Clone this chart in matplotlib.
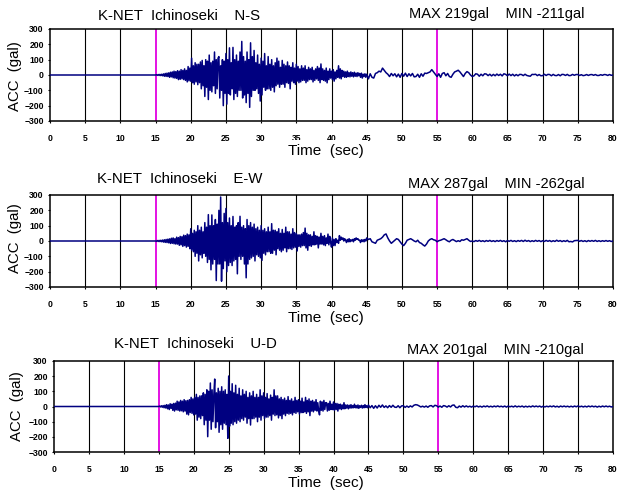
import matplotlib
matplotlib.use("Agg")
import matplotlib.pyplot as plt
import numpy as np

plt.rcParams["font.family"] = ["Liberation Sans", "DejaVu Sans"]

W_PX, H_PX = 619, 493

# sample times: quiet 0-15 s every 0.25 s, strong motion 15-45 s every 0.125 s,
# coda 45-80 s every 0.25 s
TIME = np.concatenate([
    np.arange(0, 15, 0.25),
    np.arange(15, 45, 0.125),
    np.arange(45, 80.001, 0.25),
])

PRE_EVENT = [0] * 60

NS_STRONG = [
    0, 2, -2, 3, -3, 4, -4, 5, -5, 7, -8, 10, -9, 12, -10, 14,
    -15, 18, -12, 20, -18, 25, -20, 22, -22, 28, -30, 25, -28, 35, -25, 30,
    -30, 40, -35, 30, -45, 55, -38, 45, -40, 110, -50, 60, -60, 80, -45, 70,
    -63, 70, -50, 85, -90, 95, -70, 60, -140, 100, -80, 90, -160, 130, -100, 80,
    -110, 90, -70, 150, -120, 100, -90, 110, 120, -150, 60, -100, 100, -200, 90, -120,
    140, -190, 100, -120, 177, -130, 80, -90, 180, -160, 100, -120, 130, -140, 90, -100,
    150, -100, 219, -150, 120, -130, 90, -180, 150, -120, 100, -211, 210, -140, 120, -100,
    160, -100, 80, -90, 130, -120, 70, -170, 110, -130, 90, -80, 140, -100, 60, -90,
    120, -90, 70, -100, 100, -80, 60, -110, 80, -70, 110, -60, 90, -80, 50, -60,
    95, -60, 70, -80, 60, -50, 85, -55, 60, -90, 50, -40, 80, -50, 45, -60,
    70, -40, 55, -50, 40, -45, 60, -35, 45, -35, 60, -50, 35, -40, 50, -30,
    40, -30, 50, -45, 30, -35, 40, -25, 55, -35, 45, -50, 72, -30, 40, -35,
    30, -40, 45, -51, 25, -30, 40, -20, 25, -30, 35, -40, 20, -25, 30, -15,
    60, -20, 40, -25, 30, -10, 25, -15, 20, -15, 25, -10, 15, -12, 20, -8,
    15, -12, 18, -8, 12, -10, 15, -5, 10, -15, 12, -20, 5, -10, 8, -15,
]
NS_TAIL = [
    5, -25, 8, -15, -20, 10, 15, 25,
    20, 45, 30, 15, 5, -10, 10, -5, 8, -12, 6, -15, 10, -8, 12, -10,
    8, -6, 10, -12, -10, 5, -15, 8, -8, 12, 10, 15, 20, 35, 20, 5,
    -10, 8, -15, 10, 15, -5, 10, -10, -15, 5, 20, 25, 31, 20, 5, -10,
    10, 22, 15, 0, -10, -5, 8, 5, -8, 5, -5, 8, 6, -4, 5, -6,
    4, -5, 6, -3, 5, -6, 8, 4, -5, 6, -4, 5, -6, 3, -5, 4,
    3, -4, 5, -3, -6, -8, 4, 3, 5, -4, 3, -5, -4, 5, -3, 4,
    3, -5, 4, -3, -4, 3, -5, 4, 3, -3, 4, -4, -3, 4, -2, 3,
    3, -3, 2, -4, -2, 3, -3, 2, 3, -2, 3, -3, -3, 2, -2, 3,
    2, -3, 3, -2, 0,
]

EW_STRONG = [
    0, -2, 3, -3, 4, -4, 5, -5, 6, -7, 8, -9, 10, -10, 12, -12,
    14, -16, 18, -15, 20, -18, 15, -20, 25, -20, 22, -28, 30, -25, 28, -35,
    38, -30, 35, -40, 45, -35, 40, -50, 80, -60, 50, -70, 70, -100, 60, -80,
    100, -130, 70, -90, 90, -110, 60, -80, 120, -100, 90, -140, 172, -120, 100, -188,
    170, -150, 100, -120, 140, -258, 110, -150, 200, -150, 287, -262, 120, -180, 180, -130,
    212, -200, 120, -160, 150, -140, 100, -160, 160, -130, 90, -120, 100, -214, 120, -100,
    161, -120, 90, -100, 100, -150, 80, -240, 140, -150, 100, -120, 120, -110, 90, -100,
    110, -130, 80, -90, 90, -100, 70, -110, 100, -126, 70, -80, 80, -90, 60, -70,
    90, -70, 60, -80, 113, -80, 70, -60, 70, -90, 60, -50, 80, -60, 50, -70,
    75, -60, 50, -45, 90, -70, 60, -50, 60, -50, 45, -55, 80, -45, 55, -40,
    50, -65, 40, -35, 40, -40, 45, -30, 55, -30, 84, -45, 50, -60, 40, -30,
    40, -35, 30, -25, 60, -25, 35, -20, 30, -45, 25, -20, 50, -20, 30, -25,
    35, -30, 20, -15, 45, -25, 30, -10, -40, 20, -30, 10, -30, 15, -10, 5,
    -15, 35, 5, 25, 10, 20, 0, 15, 5, -10, 10, -5, 15, -5, 8, 0,
    10, -5, 15, 5, 20, 10, 15, 5, 5, -10, 8, -3, 8, -5, 10, 0,
]
EW_TAIL = [
    20, 10, 15, -5, -10, -15, 5, 10,
    15, 25, 40, 46, 20, 0, -15, -5, 5, 15, 10, -5, -20, -30, -15, 5,
    10, 15, 8, 0, -5, 5, -10, -15, -25, -33, -20, 0, 10, 15, 8, 5,
    -5, 2, 5, 10, 15, 8, 0, -5, 5, 10, 3, -4, 2, -3, 8, 5,
    10, 15, 5, -3, 0, -4, 3, -2, 4, -3, 2, -4, 3, -2, 4, -3,
    2, -4, 3, -2, 4, -3, 2, -5, 3, -2, 4, -3, 2, -4, 3, -2,
    4, -3, 5, -2, 3, -4, 2, -3, 4, -2, 3, -4, 2, -3, 4, -2,
    3, -4, 2, -3, 5, -2, 3, -4, 2, -3, 4, -5, -3, -6, 2, 3,
    4, -2, 3, -3, 2, -4, 3, -2, 3, -2, 4, -3, 2, -3, 2, -2,
    3, -2, 2, -3, 0,
]

UD_STRONG = [
    0, 3, -3, 5, -5, 6, -8, 8, -10, 12, -15, 10, -20, 18, -12, 15,
    -25, 20, -30, 22, -22, 35, -25, 30, -30, 40, -28, 35, -35, 45, -30, 38,
    -50, 40, -55, 45, -40, 60, -45, 50, -55, 60, -50, 80, -90, 60, -70, 70,
    -80, 70, -60, 90, -120, 80, -90, 110, -199, 100, -90, 155, -150, 110, -100, 80,
    181, -140, 90, -100, 120, -170, 100, -120, 130, -150, 100, -110, 110, -120, 80, -210,
    201, -130, 100, -110, 150, -120, 90, -100, 140, -110, 80, -90, 120, -100, 70, -80,
    110, -90, 80, -70, 100, -110, 60, -80, 90, -122, 70, -80, 100, -80, 60, -70,
    80, -100, 60, -70, 110, -90, 70, -60, 90, -80, 60, -70, 85, -70, 50, -60,
    75, -90, 60, -50, 110, -60, 70, -55, 70, -75, 50, -60, 60, -80, 45, -50,
    55, -60, 40, -45, 65, -50, 40, -45, 50, -55, 35, -40, 60, -45, 40, -35,
    45, -50, 35, -40, 55, -40, 30, -35, 60, -45, 40, -35, 50, -60, 35, -30,
    40, -35, 30, -25, 45, -30, 25, -30, -55, 35, -25, 30, -30, 40, -20, 25,
    25, -30, 20, -25, 35, -20, 15, -20, 30, -25, 20, -20, 20, -30, 15, -15,
    15, -20, 10, -15, 25, -15, 10, -10, 10, -15, 8, -10, 12, -10, 6, -8,
    15, -8, 6, -10, 10, -12, 5, -6, 8, -10, 6, -8, 12, -6, 5, -8,
]
UD_TAIL = [
    10, -8, 6, -12, 5, -10, 8, -5,
    10, -6, 4, -8, 6, -5, 8, -4, -6, 5, -8, 4, 5, -6, 3, -5,
    4, -3, 8, 12, 10, 4, -3, 2, -4, 3, -5, 4, 6, -3, 8, 5,
    -4, 3, -5, 6, 3, -4, 5, -3, 8, 10, -5, -8, 3, -4, 5, -3,
    4, -3, 2, -4, 3, -2, 4, -3, 2, -4, 3, -2, 4, -3, 2, -3,
    3, -2, 4, -2, 2, -3, 3, -4, 3, -2, 2, -3, 4, -3, 2, -2,
    3, -4, 2, -3, 2, -3, 4, -2, 3, -2, 3, -4, 2, -3, 2, -2,
    3, -2, 4, -3, 2, -4, 3, -2, 3, -2, 2, -3, 2, -3, 3, -2,
    4, -2, 2, -3, 2, -3, 3, -2, 3, -2, 2, -4, 2, -3, 3, -2,
    3, -2, 2, -3, 0,
]

COMPONENTS = ["N-S", "E-W", "U-D"]
MAX_GAL = [219, 287, 201]
MIN_GAL = [-211, -262, -210]
YTICKS = [-300, -200, -100, 0, 100, 200, 300]
XTICKS = list(range(0, 81, 5))
MARK_TIMES = [15, 55]

# layout in pixels (left, top, right, bottom)
AX_BOX = [(50, 29, 613, 121), (50, 195, 613, 287), (54, 361, 613, 452)]
TITLE_XY = [(179, 15.5), (180, 179), (195, 344)]
MAXMIN_XY = [(497, 14), (496, 184), (495, 350)]
YLABEL_XY = [(15, 76), (15, 238), (17, 406)]
XLABEL_XY = [(326, 151), (326, 318), (326, 483)]
XLABEL_PAD = [3, 3, 1]

NAVY = "#000080"
MAGENTA = "#e000e0"


def fx(x):
    return x / W_PX


def fy(y):
    return 1 - y / H_PX


def main():
    fig = plt.figure(figsize=(W_PX / 100, H_PX / 100), dpi=100)
    fig.patch.set_facecolor("white")

    waves = [
        PRE_EVENT + NS_STRONG + NS_TAIL,
        PRE_EVENT + EW_STRONG + EW_TAIL,
        PRE_EVENT + UD_STRONG + UD_TAIL,
    ]

    for i, acc in enumerate(waves):
        l, t, r, b = AX_BOX[i]
        ax = fig.add_axes([fx(l), fy(b), (r - l) / W_PX, (b - t) / H_PX])

        for xt in XTICKS[1:-1]:
            if xt in MARK_TIMES:
                ax.axvline(xt, color=MAGENTA, lw=1.3, zorder=2)
            else:
                ax.axvline(xt, color="black", lw=0.8, zorder=1)

        ax.plot(TIME, acc, color=NAVY, lw=1.1, zorder=3)

        ax.set_xlim(0, 80)
        ax.set_ylim(-300, 300)
        ax.set_xticks(XTICKS)
        ax.set_yticks(YTICKS)
        ax.tick_params(axis="both", labelsize=6.2, length=1.5, width=0.8,
                       direction="out", colors="black")
        ax.tick_params(axis="x", pad=8)
        ax.tick_params(axis="y", pad=3)
        for lab in ax.get_xticklabels() + ax.get_yticklabels():
            lab.set_fontweight("bold")
        for sp in ax.spines.values():
            sp.set_linewidth(1.1)
            sp.set_color("black")

        fig.text(fx(TITLE_XY[i][0]), fy(TITLE_XY[i][1]),
                 f"K-NET  Ichinoseki    {COMPONENTS[i]}",
                 ha="center", va="center", fontsize=10.8)
        fig.text(fx(MAXMIN_XY[i][0]), fy(MAXMIN_XY[i][1]),
                 f"MAX {MAX_GAL[i]}gal    MIN {MIN_GAL[i]}gal",
                 ha="center", va="center", fontsize=10.5)
        fig.text(fx(YLABEL_XY[i][0]), fy(YLABEL_XY[i][1]), "ACC  (gal)",
                 rotation=90, ha="center", va="center", fontsize=10.8)
        fig.text(fx(XLABEL_XY[i][0]), fy(XLABEL_XY[i][1]), "Time  (sec)",
                 ha="center", va="center", fontsize=11,
                 bbox=dict(facecolor="white", edgecolor="none",
                           pad=XLABEL_PAD[i]))

    fig.savefig("out.png", dpi=100)
    plt.close(fig)


if __name__ == "__main__":
    main()
